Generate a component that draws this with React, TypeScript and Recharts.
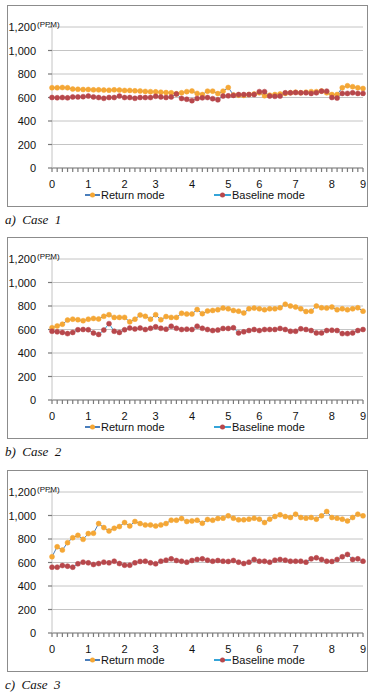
import { LineChart, Line, XAxis, YAxis, CartesianGrid, Legend } from 'recharts'

// x axis: one category per sample, hour labels only on a few of them
const X_LABEL_AT = [0, 7, 14, 20, 27, 34, 40, 47, 54, 60]
const X_LABELS   = ['0', '1', '2', '3', '4', '5', '6', '7', '8', '9']
const Y_TICKS    = [0, 200, 400, 600, 800, 1000, 1200]

// a) Case 1
const RETURN_1 = [
  683, 683, 685, 683, 672, 670, 668, 668, 665, 665,
  663, 662, 665, 663, 660, 660, 657, 655, 652, 650,
  648, 645, 642, 640, 632, 640, 650, 655, 635, 625,
  654, 654, 633, 654, 685, 622, 620, 618, 625, 630,
  640, 615, 620, 625, 630, 635, 640, 645, 640, 645,
  650, 650, 655, 640, 625, 625, 683, 700, 692, 683,
  677,
]
const BASELINE_1 = [
  600, 598, 600, 597, 605, 605, 607, 612, 605, 600,
  593, 600, 600, 612, 600, 600, 593, 600, 600, 600,
  610, 605, 600, 605, 630, 592, 585, 573, 592, 597,
  600, 590, 580, 612, 614, 618, 625, 625, 625, 625,
  650, 650, 612, 610, 612, 640, 640, 642, 640, 640,
  635, 640, 654, 654, 600, 595, 635, 635, 640, 635,
  635,
]

// b) Case 2
const RETURN_2 = [
  615, 630, 645, 680, 688, 683, 675, 688, 694, 690,
  712, 726, 703, 703, 703, 665, 688, 723, 712, 688,
  726, 683, 710, 703, 703, 738, 732, 732, 770, 735,
  758, 762, 768, 782, 776, 762, 756, 741, 776, 782,
  776, 768, 776, 776, 785, 815, 800, 791, 776, 753,
  756, 800, 785, 782, 791, 768, 776, 768, 776, 785,
  756,
]
const BASELINE_2 = [
  585, 580, 575, 565, 575, 598, 600, 598, 570, 558,
  595, 650, 585, 575, 598, 612, 605, 612, 600, 610,
  623, 610, 603, 628, 610, 600, 603, 600, 628, 610,
  600, 591, 595, 609, 609, 615, 571, 580, 591, 600,
  591, 600, 600, 600, 609, 600, 585, 585, 606, 600,
  591, 571, 571, 591, 594, 591, 565, 565, 571, 591,
  600,
]

// c) Case 3
const RETURN_3 = [
  649, 734, 706, 769, 811, 831, 797, 846, 849, 931,
  897, 869, 891, 906, 940, 911, 949, 931, 920, 920,
  911, 920, 931, 960, 960, 974, 949, 954, 960, 934,
  966, 960, 974, 977, 997, 977, 963, 963, 969, 977,
  969, 940, 969, 991, 1006, 991, 983, 1011, 983, 977,
  983, 969, 997, 1034, 983, 977, 969, 954, 983, 1011,
  997,
]
const BASELINE_3 = [
  560, 560, 574, 569, 560, 589, 603, 597, 583, 591,
  603, 597, 611, 591, 577, 577, 597, 609, 611, 597,
  589, 611, 620, 631, 617, 611, 603, 617, 626, 631,
  620, 611, 617, 611, 609, 617, 603, 591, 603, 626,
  611, 611, 603, 620, 626, 620, 611, 611, 611, 603,
  631, 640, 626, 611, 609, 626, 649, 669, 626, 631,
  611,
]

const FONT = '"Liberation Sans", Arial, sans-serif'
const RET_LINE  = '#4a7ebb'
const RET_DOT   = '#f5a735'
const BASE_LINE = '#35a4d8'
const BASE_DOT  = '#b8474b'
const GRID = '#c4c4c4'
const AXIS = '#8a8a8a'

function fmtX(i: number) {
  const k = X_LABEL_AT.indexOf(i)
  return k >= 0 ? X_LABELS[k] : ''
}

function YTick(props: any) {
  const { x, y, payload } = props
  const v = payload.value as number
  return (
    <g>
      <text x={x} y={y} dy={4} textAnchor="end" fontSize={11} fill="#111" fontFamily={FONT}>
        {v.toLocaleString('en-US')}
      </text>
      {v === 1200 && (
        <text x={Number(x) + 1} y={Number(y) - 0.5} fontSize={8} fill="#111" fontFamily={FONT}>(PPM)</text>
      )}
    </g>
  )
}

function LegendKey({ left, line, dot, w, label }: { left: number; line: string; dot: string; w: number; label: string }) {
  return (
    <div style={{ position: 'absolute', left, top: 0, height: 14, display: 'flex', alignItems: 'center' }}>
      <svg width={w} height={14}>
        <line x1={0} y1={7} x2={w} y2={7} stroke={line} strokeWidth={2} />
        <circle cx={w / 2} cy={7} r={2.5} fill={dot} />
      </svg>
      <span style={{ marginLeft: 1, fontSize: 11, lineHeight: '14px', color: '#111', fontFamily: FONT, whiteSpace: 'nowrap' }}>
        {label}
      </span>
    </div>
  )
}

function LegendBox() {
  return (
    <div style={{ position: 'relative', height: 14 }}>
      <LegendKey left={77} w={15} line={RET_LINE} dot={RET_DOT} label="Return mode" />
      <LegendKey left={206} w={17} line={BASE_LINE} dot={BASE_DOT} label="Baseline mode" />
    </div>
  )
}

interface PanelProps {
  top: number
  caption: string
  ret: number[]
  base: number[]
}

function Panel({ top, caption, ret, base }: PanelProps) {
  const rows = ret.map((v, i) => ({ i, ret: v, base: base[i] }))
  return (
    <>
      <div style={{
        position: 'absolute', left: 7, top, width: 361, height: 202,
        boxSizing: 'border-box', border: '1px solid #8c8c8c', background: '#fff',
      }}>
        <LineChart width={359} height={200} data={rows} margin={{ top: 21, right: 4, left: 0, bottom: 4 }}>
          <CartesianGrid horizontal vertical={false} stroke={GRID} />
          <XAxis
            dataKey="i"
            type="category"
            interval={0}
            minTickGap={0}
            tickFormatter={fmtX}
            height={20}
            tickSize={4}
            tickMargin={8}
            tickLine={{ stroke: '#7a7a7a', strokeWidth: 1.2 }}
            axisLine={{ stroke: AXIS }}
            tick={{ fontSize: 11, fill: '#111', fontFamily: FONT }}
          />
          <YAxis
            domain={[0, 1200]}
            ticks={Y_TICKS}
            width={44}
            tickSize={4}
            tickMargin={12}
            tickLine={{ stroke: '#7a7a7a', strokeWidth: 1.2 }}
            axisLine={{ stroke: GRID }}
            tick={<YTick />}
          />
          <Legend verticalAlign="bottom" height={14} content={() => <LegendBox />} />
          <Line
            dataKey="ret"
            stroke={RET_LINE}
            strokeWidth={1}
            dot={{ r: 2.5, fill: RET_DOT, stroke: RET_DOT, strokeWidth: 0.5 }}
            activeDot={false}
            isAnimationActive={false}
          />
          <Line
            dataKey="base"
            stroke={BASE_LINE}
            strokeWidth={1}
            dot={{ r: 2.5, fill: BASE_DOT, stroke: BASE_DOT, strokeWidth: 0.5 }}
            activeDot={false}
            isAnimationActive={false}
          />
        </LineChart>
      </div>
      <div style={{
        position: 'absolute', left: 5, top: top + 208, fontFamily: '"Liberation Serif", "Times New Roman", serif',
        fontStyle: 'italic', fontSize: 13, lineHeight: '14px', whiteSpace: 'pre', color: '#111',
      }}>
        {caption}
      </div>
    </>
  )
}

export default function App() {
  return (
    <div style={{ position: 'fixed', left: 0, top: 0, width: 377, height: 699, background: '#fff' }}>
      <Panel top={5} caption="a)  Case  1" ret={RETURN_1} base={BASELINE_1} />
      <Panel top={237} caption="b)  Case  2" ret={RETURN_2} base={BASELINE_2} />
      <Panel top={470} caption="c)  Case  3" ret={RETURN_3} base={BASELINE_3} />
    </div>
  )
}
